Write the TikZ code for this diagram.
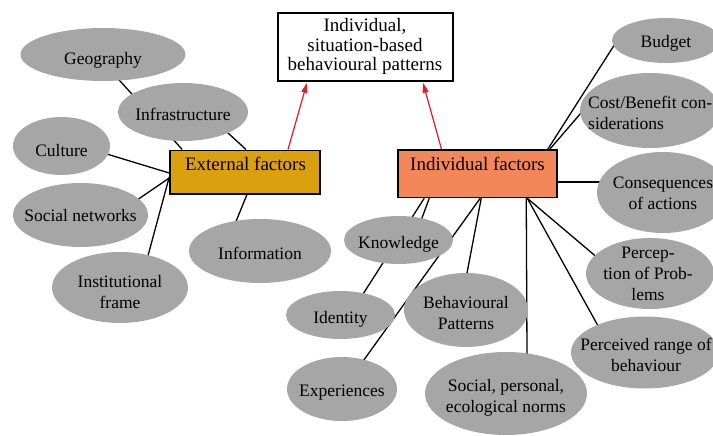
\documentclass[tikz,border=0pt]{standalone}
\usepackage{fontspec}
\setmainfont{Liberation Serif}
\usetikzlibrary{arrows.meta,calc,backgrounds,shapes.geometric}
\definecolor{ellgray}{HTML}{A6A6A6}
\definecolor{extcol}{HTML}{DBA00E}
\definecolor{indcol}{HTML}{F4875A}
\definecolor{arrred}{HTML}{D8232A}
\begin{document}
\begin{tikzpicture}[x=1pt,y=-1pt,
  ell/.style={ellipse, fill=ellgray, draw=none, inner sep=0pt},
  etext/.style={font=\fontsize{17.5}{21}\selectfont, align=center, inner sep=0pt},
  btext/.style={font=\fontsize{19}{19.5}\selectfont, align=center, inner sep=0pt},
  fbox/.style={draw=black, line width=1.5pt, inner sep=0pt},
  conn/.style={black, line width=1.3pt, shorten >=-4pt},
  redarr/.style={arrred, line width=1.25pt, -{Triangle[length=10pt,width=6pt]}},
]
\useasboundingbox (0,0) rectangle (713,436);
\clip (0,0) rectangle (713,436);

% boxes
\node[fbox, fill=white, minimum width=175pt, minimum height=68pt] (top) at (365.5,47) {};
\node[btext] (topT) at (365,46.5) {Individual,\\situation-based\\behavioural patterns};
\node[fbox, fill=extcol, minimum width=150pt, minimum height=43.5pt] (ext) at (245,172) {};
\node[btext] (extT) at (245.5,164) {External factors};
\node[fbox, fill=indcol, minimum width=159pt, minimum height=47.5pt] (ind) at (477.5,173.75) {};
\node[btext] (indT) at (477.5,164) {Individual factors};

% ellipses (external)
\node[ell, minimum width=165pt, minimum height=53pt] (geo) at (103,54.5) {};
\node[etext] (geoT) at (103,60) {Geography};
\node[ell, minimum width=130pt, minimum height=58pt] (infra) at (183,112) {};
\node[etext] (infraT) at (183,114) {Infrastructure};
\node[ell, minimum width=97pt, minimum height=58pt] (culture) at (61.5,146) {};
\node[etext] (cultureT) at (61.5,151) {Culture};
\node[ell, minimum width=135pt, minimum height=64pt] (social) at (80.5,215) {};
\node[etext] (socialT) at (80.5,216) {Social networks};
\node[ell, minimum width=136pt, minimum height=71pt] (instit) at (120,287.5) {};
\node[etext] (institT) at (120,292) {Institutional\\frame};
\node[ell, minimum width=142pt, minimum height=64pt] (info) at (260,251) {};
\node[etext] (infoT) at (260,253) {Information};

% ellipses (individual)
\node[ell, minimum width=109pt, minimum height=48pt] (know) at (398.5,240) {};
\node[etext] (knowT) at (398.5,244) {Knowledge};
\node[ell, minimum width=109pt, minimum height=48pt] (identity) at (340.5,315) {};
\node[etext] (identityT) at (340.5,319) {Identity};
\node[ell, minimum width=110pt, minimum height=64pt] (exper) at (342,389) {};
\node[etext] (experT) at (342,393) {Experiences};
\node[ell, minimum width=124pt, minimum height=74pt] (behav) at (466,310) {};
\node[etext] (behavT) at (466,313) {Behavioural\\Patterns};
\node[ell, minimum width=162pt, minimum height=83pt] (norms) at (506,393.5) {};
\node[etext] (normsT) at (506,398) {Social, personal,\\ecological norms};
\node[ell, minimum width=128pt, minimum height=71pt] (percep) at (650,273.5) {};
\node[etext] (percepT) at (648,274) {Percep-\\tion of Prob-\\lems};
\node[ell, minimum width=148pt, minimum height=72pt] (range) at (645,352.5) {};
\node[etext] (rangeT) at (646,355) {Perceived range of\\behaviour};
\node[ell, minimum width=108pt, minimum height=45pt] (budget) at (666,40.5) {};
\node[etext] (budgetT) at (666,43) {Budget};
\node[ell, minimum width=140pt, minimum height=75pt] (cost) at (650,110.5) {};
\node[etext, align=left, anchor=west] (costT) at (588,113) {Cost/Benefit con-\\siderations};
\node[ell, minimum width=132pt, minimum height=81pt] (conseq) at (663,192.5) {};
\node[etext] (conseqT) at (663,193) {Consequences\\of actions};

% connectors
\begin{scope}[on background layer]
\draw[conn] ($(ext.north west)+(13,0)$) -- ($(geo)+(17,26.5)$);
\draw[conn] ($(ext.north)+(1,0)$) -- ($(infra)+(45,21)$);
\draw[conn] ($(ext.west)+(0,1)$) -- ($(culture)+(48.5,9)$);
\draw[conn] ($(ext.west)+(0,6)$) -- ($(social)+(59.5,-17)$);
\draw[conn] ($(ext.west)+(0,5)$) -- ($(instit)+(29,-35.5)$);
\draw[conn] ($(ext.south)+(2,0)$) -- ($(info)+(-23,-32)$);

\draw[conn] ($(ind.north east)+(-10,0)$) -- ($(budget)+(-53,6.5)$);
\draw[conn] ($(ind.north east)+(-8,0)$) -- ($(cost)+(-69,2.5)$);
\draw[conn] ($(ind.east)+(0,8.25)$) -- ($(conseq)+(-65,-10.5)$);
\draw[conn] ($(ind.south west)+(32,0)$) -- ($(know)+(23.5,-22)$);
\draw[conn] ($(ind.south west)+(27,0)$) -- ($(identity)+(24.5,-24)$);
\draw[conn] ($(ind.south west)+(83,0)$) -- ($(exper)+(24,-32)$);
\draw[conn] ($(ind.south west)+(84,0)$) -- ($(behav)+(1,-37)$);
\draw[conn] ($(ind.south west)+(129,0)$) -- ($(norms)+(21,-40)$);
\draw[conn] ($(ind.south west)+(130,0)$) -- ($(percep)+(-54,-17)$);
\draw[conn] ($(ind.south west)+(130,0)$) -- ($(range)+(-48,-28.5)$);
\end{scope}

\draw[redarr] ($(ext.north)+(43,0)$) -- ($(top.south)+(-58.5,1)$);
\draw[redarr] ($(ind.north)+(-36,0)$) -- ($(top.south)+(57.5,1)$);
\end{tikzpicture}
\end{document}
